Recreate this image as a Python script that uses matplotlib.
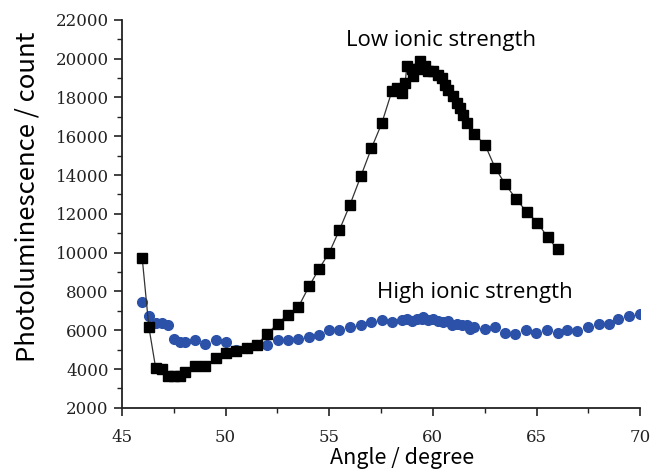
import matplotlib
matplotlib.use("Agg")
import matplotlib.pyplot as plt
from matplotlib.ticker import MultipleLocator

# Low ionic strength (black squares)
low_angle = [45.98, 46.30, 46.63, 46.91, 47.23, 47.50, 47.80, 48.04, 48.52, 49.02,
             49.52, 50.02, 50.52, 51.02, 51.50, 52.02, 52.51, 53.01, 53.51, 54.03,
             54.51, 55.00, 55.49, 56.00, 56.52, 57.03, 57.53, 58.02, 58.26, 58.50,
             58.66, 58.74, 58.98, 59.06, 59.30, 59.38, 59.62, 59.78, 60.02, 60.26,
             60.42, 60.58, 60.74, 60.98, 61.14, 61.30, 61.46, 61.62, 62.00, 62.52,
             63.00, 63.48, 64.00, 64.53, 65.04, 65.53, 66.01]
low_pl = [9700, 6160, 4040, 4000, 3620, 3620, 3620, 3830, 4180, 4180,
          4550, 4810, 4950, 5070, 5250, 5820, 6340, 6800, 7200, 8270,
          9170, 10000, 11170, 12470, 13930, 15370, 16660, 18320, 18490, 18230,
          18750, 19600, 19440, 19100, 19440, 19870, 19610, 19350, 19350, 19180,
          19010, 18660, 18400, 18060, 17710, 17450, 17110, 16680, 16130, 15540,
          14370, 13540, 12780, 12090, 11550, 10790, 10170]

# High ionic strength (blue circles)
high_angle = [45.98, 46.30, 46.63, 46.91, 47.23, 47.51, 47.80, 48.04, 48.52, 49.02,
              49.52, 50.02, 50.52, 51.02, 51.50, 51.99, 52.51, 53.01, 53.51, 54.03,
              54.51, 55.00, 55.49, 56.00, 56.52, 57.03, 57.53, 58.02, 58.50, 58.74,
              58.98, 59.22, 59.46, 59.54, 59.78, 60.02, 60.26, 60.50, 60.74, 60.91,
              61.15, 61.39, 61.63, 61.80, 61.96, 62.52, 63.00, 63.48, 63.97, 64.48,
              64.98, 65.50, 66.01, 66.49, 66.97, 67.50, 67.99, 68.47, 68.95, 69.48,
              70.00]
high_pl = [7460, 6720, 6370, 6370, 6250, 5560, 5380, 5380, 5520, 5300,
           5470, 5380, 5000, 5070, 5250, 5250, 5470, 5470, 5560, 5640,
           5770, 5990, 5990, 6160, 6250, 6420, 6510, 6420, 6540, 6600,
           6470, 6600, 6600, 6680, 6540, 6600, 6470, 6420, 6470, 6250,
           6330, 6250, 6250, 6080, 6160, 6080, 6160, 5870, 5780, 6030,
           5870, 6030, 5870, 5990, 5950, 6160, 6300, 6340, 6600, 6720,
           6860]

fig = plt.figure(figsize=(6.52, 4.72), dpi=100)
ax = fig.add_axes([0.187, 0.136, 0.795, 0.822])

ax.plot(low_angle, low_pl, color="#333333", linewidth=0.9, marker="s",
        markersize=6.5, markerfacecolor="black", markeredgecolor="black", zorder=3)
ax.plot(high_angle, high_pl, linestyle="none", marker="o", markersize=7,
        markerfacecolor="#2b52a8", markeredgecolor="#2b52a8", zorder=2)

ax.set_xlim(45, 70)
ax.set_ylim(2000, 22000)
ax.xaxis.set_major_locator(MultipleLocator(5))
ax.xaxis.set_minor_locator(MultipleLocator(2.5))
ax.yaxis.set_major_locator(MultipleLocator(2000))
ax.yaxis.set_minor_locator(MultipleLocator(1000))

for side in ["top", "right"]:
    ax.spines[side].set_visible(False)
for side in ["left", "bottom"]:
    ax.spines[side].set_linewidth(1.3)
    ax.spines[side].set_color("#222222")

ax.tick_params(which="major", direction="out", length=6, width=1.2, colors="#222222")
ax.tick_params(axis="x", which="major", pad=9)
ax.tick_params(which="minor", direction="out", length=3.5, width=1.0, colors="#222222")
for lab in ax.get_xticklabels() + ax.get_yticklabels():
    lab.set_family("DejaVu Serif")
    lab.set_fontsize(12)

ax.set_xlabel("Angle / degree", fontsize=15.5, family="Noto Sans CJK JP")
ax.set_ylabel("Photoluminescence / count", fontsize=18.5, family="Noto Sans CJK JP")
ax.xaxis.set_label_coords(0.54, -0.1)
ax.yaxis.set_label_coords(-0.158, 0.545)

ax.text(60.4, 20950, "Low ionic strength", fontsize=16, family="Open Sans",
        ha="center", va="center")
ax.text(62.0, 7950, "High ionic strength", fontsize=16, family="Open Sans",
        ha="center", va="center")

fig.savefig("out.png", dpi=100)
